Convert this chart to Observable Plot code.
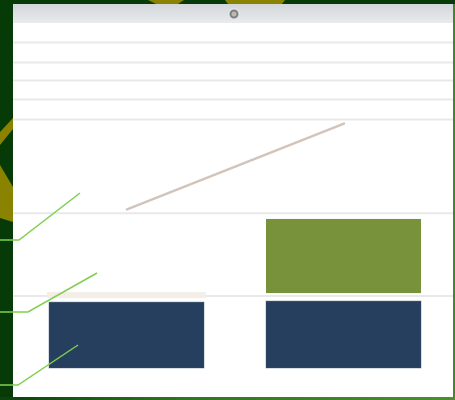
<!DOCTYPE html>
<html>
<head>
<meta charset="utf-8">
<script src="https://cdn.jsdelivr.net/npm/d3@7"></script>
<script src="https://cdn.jsdelivr.net/npm/@observablehq/plot@0.6"></script>
<style>
  html, body { margin: 0; padding: 0; background: #073c07; }
  #wrap { position: relative; width: 455px; height: 400px; overflow: hidden; background: #063a06; font-family: "Liberation Sans", Arial, sans-serif; }
  #deco, #panel, #chart, #leaders { position: absolute; }
  #deco { left: 0; top: 0; }
  #panel { left: 13px; top: 4px; width: 440px; height: 393px; background: #ffffff; }
  #panel .head { position: absolute; left: 0; top: 0; width: 440px; height: 19px; background: linear-gradient(#d3d6da, #e9ebed); }
  #rborder { position: absolute; left: 453px; top: 4px; width: 2px; height: 396px; background: #3f8a28; }
  #bottom { position: absolute; left: 0; top: 397px; width: 455px; height: 3px; background: linear-gradient(90deg, #0c400c, #2f7420 40%, #4c8f2c); }
  #chart { left: 0; top: 0; }
  #leaders { left: 0; top: 0; }
</style>
</head>
<body>
<div id="wrap">
  <svg id="deco" width="455" height="400">
    <circle cx="255" cy="-20" r="28" fill="none" stroke="#8a8300" stroke-width="16"></circle>
    <polygon points="148,0 184,0 178,4 156,4" fill="#8a8300"></polygon>
    <polygon points="13,118 13,129 0,145 0,132" fill="#8a8300"></polygon>
    <polygon points="0,165 13,187 13,222 0,218" fill="#8a8300"></polygon>
  </svg>
  <div id="panel"><div class="head"></div></div>
  <div id="chart"></div>
  <div id="rborder"></div>
  <div id="bottom"></div>
  <svg id="leaders" width="455" height="400"></svg>
</div>
<script>
// ---- data ----
const categories = ["1", "2"];
const navyValues = [19.1, 19.4];
const paleValues = [2.9, 0];
const oliveValues = [0, 23.8];
const lineValues = [46.1, 71.0];
const gridValues = [21, 45, 72.2, 78, 83.5, 88.7, 94.5];

// ---- build tables ----
const navyRows = categories.map((c, i) => ({c, y1: 0, y2: navyValues[i]}));
const paleRows = categories.map((c, i) => ({c, y1: navyValues[i], y2: navyValues[i] + paleValues[i], v: paleValues[i]})).filter(d => d.v > 0);
const oliveRows = categories.map((c, i) => ({c, y1: navyValues[i], y2: navyValues[i] + oliveValues[i], v: oliveValues[i]})).filter(d => d.v > 0);
const lineRows = categories.map((c, i) => ({c, v: lineValues[i]}));

const chart = Plot.plot({
  width: 455,
  height: 400,
  marginTop: 23,
  marginBottom: 32,
  marginLeft: 13,
  marginRight: 2,
  style: {background: "transparent", overflow: "visible"},
  x: {domain: categories, paddingInner: 0.287, paddingOuter: 0.156, align: 0.53, axis: null},
  y: {domain: [0, 100], axis: null},
  marks: [
    Plot.ruleY(gridValues, {stroke: "#e9e9e9", strokeWidth: 2}),
    Plot.barY(navyRows, {x: "c", y1: "y1", y2: "y2", fill: "#263f5e", stroke: "#3a5470", strokeOpacity: 0.4, strokeWidth: 1}),
    Plot.barY(paleRows, {x: "c", y1: "y1", y2: "y2", insetBottom: 4, insetLeft: -2, insetRight: -2, fill: "#f3eee7"}),
    Plot.barY(oliveRows, {x: "c", y1: "y1", y2: "y2", insetBottom: 8, fill: "#77923a"}),
    Plot.line(lineRows, {x: "c", y: "v", stroke: "#d2c4ba", strokeWidth: 2.5})
  ]
});
document.getElementById("chart").appendChild(chart);

// header icon (magnifier-like glyph)
const leaders = d3.select("#leaders");
leaders.append("circle").attr("cx", 234).attr("cy", 14).attr("r", 6).attr("fill", "#e4e5e7");
leaders.append("circle").attr("cx", 234).attr("cy", 14).attr("r", 3.5).attr("fill", "#b9b9b9").attr("stroke", "#808080").attr("stroke-width", 2);

// leader (callout) lines
const leaderLines = [
  [[0, 240], [19, 240], [80, 193]],
  [[0, 312], [28, 312], [97, 273]],
  [[0, 385], [18, 385], [78, 345]]
];
leaders.selectAll("polyline.l").data(leaderLines).join("polyline")
  .attr("class", "l")
  .attr("points", d => d.map(p => p.join(",")).join(" "))
  .attr("fill", "none").attr("stroke", "#80cf50").attr("stroke-width", 1.5);
</script>
</body>
</html>
